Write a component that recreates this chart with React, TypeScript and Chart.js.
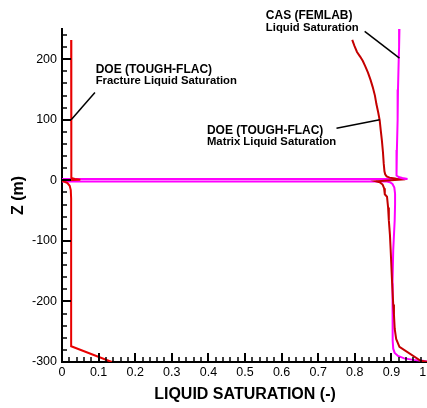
import { useEffect, useRef } from 'react';
import { Chart, registerables } from 'chart.js';

Chart.register(...registerables);

// DOE (TOUGH-FLAC) fracture liquid saturation profile
const fractureSat = [0.025, 0.025, 0.025, 0.025, 0.027, 0.035, 0.05, 0.03, 0, 0, 0.006, 0.015, 0.021, 0.024, 0.025, 0.025, 0.025, 0.136];
const fractureZ = [232, 120, 40, 8, 4, 2.2, 1.2, 0.6, 0.2, -0.8, -2, -4.5, -9, -16, -30, -150, -274, -300];

// DOE (TOUGH-FLAC) matrix liquid saturation profile
const matrixSat = [0.793, 0.799, 0.806, 0.815, 0.822, 0.829, 0.836, 0.843, 0.849, 0.855, 0.859, 0.864, 0.868, 0.871, 0.874, 0.877, 0.879, 0.881, 0.883, 0.887, 0.895, 0.91, 0.922, 0.859, 0.868, 0.876, 0.88, 0.882, 0.888, 0.891, 0.893, 0.896, 0.898, 0.902, 0.905, 0.907, 0.909, 0.913, 0.922, 0.98, 1.0];
const matrixZ = [232, 222, 212, 204, 197, 188, 178, 166, 154, 140, 126, 112, 99, 82, 66, 46, 28, 15, 10, 6.5, 4.5, 3, 1.2, -1.6, -3, -7, -13, -23, -27, -45, -66, -90, -115, -170, -205, -222, -245, -262, -275, -298, -300];

// CAS (FEMLAB) liquid saturation profile
const femlabSat = [0.922, 0.921, 0.92, 0.918, 0.917, 0.915, 0.914, 0.913, 0.915, 0.92, 0.93, 0.944, 0, 0, 0.885, 0.896, 0.903, 0.908, 0.91, 0.91, 0.909, 0.905, 0.903, 0.903, 0.904, 0.905, 0.909, 0.918, 0.935, 0.96, 0.99, 1.0];
const femlabZ = [250, 220, 200, 150, 100, 50, 25, 14, 8, 5.5, 4, 2.4, 2.4, -1.7, -1.7, -3, -6, -12, -22, -40, -66, -115, -170, -230, -265, -278, -285, -290, -294, -296.5, -298.5, -299];

// axis ranges and tick spacing
const satRange = [0, 1];
const satMajor = 0.1;
const satMinor = 0.02;
const zRange = [-300, 250];
const zMajor = 100;
const zMinor = 20;

const FONT = '"Liberation Sans", Arial, Helvetica, sans-serif';

type Callout = {
  lines: string[];
  sat: number;
  z: number;
  from: [number, number];
  to: [number, number];
};

const callouts: Callout[] = [
  { lines: ['DOE (TOUGH-FLAC)', 'Fracture Liquid Saturation'], sat: 0.092, z: 178, from: [0.09, 145], to: [0.025, 100] },
  { lines: ['DOE (TOUGH-FLAC)', 'Matrix Liquid Saturation'], sat: 0.396, z: 77, from: [0.75, 86], to: [0.868, 100] },
  { lines: ['CAS (FEMLAB)', 'Liquid Saturation'], sat: 0.557, z: 266, from: [0.827, 246], to: [0.922, 202] },
];

const toPoints = (xs: number[], ys: number[]) => xs.map((x, i) => ({ x, y: ys[i] }));

// tick marks drawn inside the plot frame, majors and minors
const inwardTicks = {
  id: 'inwardTicks',
  afterDatasetsDraw(chart: any) {
    const { ctx, chartArea, scales } = chart;
    const xs = scales.x;
    const ys = scales.y;
    ctx.save();
    ctx.strokeStyle = '#000';
    const nx = Math.round((satRange[1] - satRange[0]) / satMinor);
    const perMajorX = Math.round(satMajor / satMinor);
    for (let i = 0; i <= nx; i++) {
      const major = i % perMajorX === 0;
      const px = Math.round(xs.getPixelForValue(satRange[0] + i * satMinor));
      ctx.lineWidth = major ? 2 : 1.5;
      ctx.beginPath();
      ctx.moveTo(px, chartArea.bottom);
      ctx.lineTo(px, chartArea.bottom - (major ? 9 : 5));
      ctx.stroke();
    }
    const ny = Math.round((zRange[1] - zRange[0]) / zMinor);
    for (let i = 0; i < ny; i++) {
      const v = zRange[0] + i * zMinor;
      const major = v % zMajor === 0;
      const py = Math.round(ys.getPixelForValue(v));
      ctx.lineWidth = major ? 2 : 1.5;
      ctx.beginPath();
      ctx.moveTo(chartArea.left, py);
      ctx.lineTo(chartArea.left + (major ? 9 : 5), py);
      ctx.stroke();
    }
    ctx.restore();
  },
};

// two-line labels with leader lines pointing at each curve
const calloutLabels = {
  id: 'calloutLabels',
  afterDraw(chart: any) {
    const { ctx, scales } = chart;
    const xs = scales.x;
    const ys = scales.y;
    ctx.save();
    ctx.fillStyle = '#000';
    ctx.strokeStyle = '#000';
    ctx.lineWidth = 1.5;
    ctx.textAlign = 'left';
    ctx.textBaseline = 'alphabetic';
    for (const c of callouts) {
      const tx = xs.getPixelForValue(c.sat);
      const ty = ys.getPixelForValue(c.z);
      c.lines.forEach((line, i) => {
        ctx.font = `bold ${i === 0 ? 12 : 11.3}px ${FONT}`;
        ctx.fillText(line, tx, ty + i * 11.5);
      });
      ctx.beginPath();
      ctx.moveTo(xs.getPixelForValue(c.from[0]), ys.getPixelForValue(c.from[1]));
      ctx.lineTo(xs.getPixelForValue(c.to[0]), ys.getPixelForValue(c.to[1]));
      ctx.stroke();
    }
    ctx.restore();
  },
};

export default function App() {
  const canvasRef = useRef<HTMLCanvasElement | null>(null);

  useEffect(() => {
    if (!canvasRef.current) return;
    const line = (data: { x: number; y: number }[], color: string) => ({
      data,
      showLine: true,
      borderColor: color,
      backgroundColor: color,
      borderWidth: 2,
      pointRadius: 0,
      tension: 0,
    });

    const chart = new Chart(canvasRef.current, {
      type: 'scatter',
      data: {
        datasets: [
          { ...line(toPoints(fractureSat, fractureZ), '#e80000'), label: 'DOE (TOUGH-FLAC) Fracture Liquid Saturation' },
          { ...line(toPoints(matrixSat, matrixZ), '#c40000'), label: 'DOE (TOUGH-FLAC) Matrix Liquid Saturation' },
          { ...line(toPoints(femlabSat, femlabZ), '#ff00ff'), label: 'CAS (FEMLAB) Liquid Saturation' },
        ],
      },
      options: {
        responsive: false,
        animation: false,
        layout: { padding: { top: 29, right: 22, left: 0, bottom: 0 } },
        plugins: { legend: { display: false }, tooltip: { enabled: false } },
        scales: {
          x: {
            type: 'linear',
            min: satRange[0],
            max: satRange[1],
            grid: { display: false, drawTicks: false },
            border: { display: true, color: '#000', width: 2 },
            ticks: {
              stepSize: satMajor,
              color: '#000',
              padding: 3,
              maxRotation: 0,
              autoSkip: false,
              font: { family: FONT, size: 12.5 },
            },
            title: {
              display: true,
              text: 'LIQUID SATURATION (-)',
              color: '#000',
              font: { family: FONT, size: 16, weight: 'bold' },
              padding: { top: 0, bottom: 4 },
            },
            afterFit: (s: any) => {
              s.height = 46;
            },
          },
          y: {
            type: 'linear',
            min: zRange[0],
            max: zRange[1],
            grid: { display: false, drawTicks: false },
            border: { display: true, color: '#000', width: 2 },
            ticks: {
              stepSize: zMajor,
              includeBounds: false,
              color: '#000',
              padding: 5,
              font: { family: FONT, size: 12.5 },
            },
            title: {
              display: true,
              text: 'Z (m)',
              color: '#000',
              font: { family: FONT, size: 16, weight: 'bold' },
              padding: { top: 8.5, bottom: 0 },
            },
            afterFit: (s: any) => {
              s.width = 62;
            },
          },
        },
      },
      plugins: [inwardTicks, calloutLabels],
    });
    return () => chart.destroy();
  }, []);

  return (
    <div
      style={{
        position: 'fixed',
        left: 0,
        top: 0,
        width: 427,
        height: 408,
        overflow: 'hidden',
        background: '#fff',
      }}
    >
      <canvas ref={canvasRef} width={450} height={408} style={{ display: 'block' }} />
    </div>
  );
}
